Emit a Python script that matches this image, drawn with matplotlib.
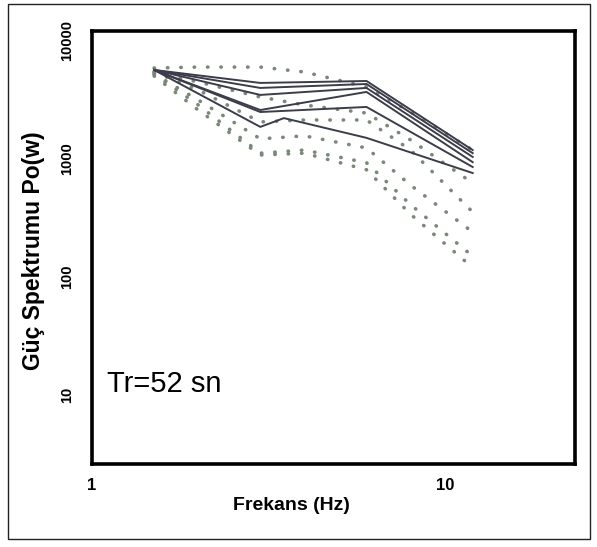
import numpy as np
import matplotlib.pyplot as plt
from matplotlib.patches import Rectangle

plt.rcParams['font.family'] = ['Liberation Sans', 'DejaVu Sans']

# Frekans bantlari (Hz)
frek_duz = [1.5, 3, 6, 12]
frek_duz6 = [1.5, 3, 3.5, 6, 12]
frek_nokta = [1.5, 2, 3, 4, 6, 8, 12]

# Duz cizgiler - guc spektrumu
duz1 = [5680, 4410, 4580, 1190]
duz2 = [5680, 4000, 4320, 1120]
duz3 = [5680, 3490, 4000, 1040]
duz4 = [5680, 2600, 3700, 940]
duz5 = [5680, 2500, 2760, 855]
duz6 = [5680, 1870, 2220, 1510, 760]

# Noktali cizgiler
nokta1 = [5900, 6010, 6010, 5460, 4080, 2500, 1190]
nokta2 = [5460, 4490, 3350, 2870, 2450, 1450, 625]
nokta3 = [5460, 3840, 2060, 2140, 2140, 1190, 355]
nokta4 = [5250, 3160, 1480, 1570, 1240, 600, 240]
nokta5 = [5250, 2870, 1120, 1190, 930, 410, 150]
nokta6 = [5050, 2600, 1080, 1120, 810, 340, 120]

fig = plt.figure(figsize=(5.97, 5.47), dpi=100)
ax = fig.add_axes([92 / 597, 1 - 464 / 547, (575 - 92) / 597, (464 - 31) / 547])

# Cerceve
fig.patches.append(Rectangle((8 / 597, 1 - 539 / 547), 582 / 597, 535 / 547,
                             transform=fig.transFigure, fill=False,
                             edgecolor='#222222', linewidth=1.0))

for seri in [nokta1, nokta2, nokta3, nokta4, nokta5, nokta6]:
    ax.plot(frek_nokta, seri, color='#7a887a', linewidth=2.6,
            linestyle=(0, (0.1, 3.6)), dash_capstyle='round')

for seri in [duz1, duz2, duz3, duz4, duz5]:
    ax.plot(frek_duz, seri, color='#3c3c4a', linewidth=1.4)
ax.plot(frek_duz6, duz6, color='#3c3c4a', linewidth=1.4)

ax.set_xscale('log')
ax.set_yscale('log')
ax.set_xlim(1, 23.4)
ax.set_ylim(2.6, 12150)

ax.set_xticks([1, 10])
ax.set_xticklabels(['1', '10'], fontsize=12, fontweight='bold')
ax.set_yticks([10, 100, 1000, 10000])
ax.set_yticklabels(['10', '100', '1000', '10000'], fontsize=10.5,
                   fontweight='bold', rotation=90, va='center')
ax.minorticks_off()
ax.tick_params(axis='x', length=0, pad=10)
ax.tick_params(axis='y', length=0, pad=13)

for sp in ax.spines.values():
    sp.set_linewidth(2.6)
    sp.set_color('black')

ax.set_xlabel('Frekans (Hz)', fontsize=14, fontweight='bold')
ax.xaxis.set_label_coords(0.412, -0.076)
ax.set_ylabel('Güç Spektrumu Po(w)', fontsize=16.5, fontweight='bold')
ax.yaxis.set_label_coords(-0.098, 0.492)

ax.text(0.031, 0.166, 'Tr=52 sn', transform=ax.transAxes, fontsize=21,
        va='baseline', ha='left')

fig.savefig('out.png', dpi=100)
